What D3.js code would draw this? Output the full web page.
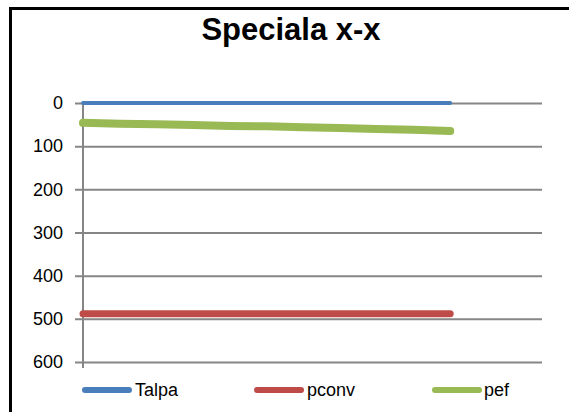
<!DOCTYPE html>
<html>
<head>
<meta charset="utf-8">
<script src="https://cdn.jsdelivr.net/npm/d3@7"></script>
<style>
  html, body { margin: 0; background: #fff; overflow: hidden; }
  svg { display: block; }
  text { font-family: "Liberation Sans", Arial, sans-serif; fill: #000; }
</style>
</head>
<body>
<script>
var width = 569,
    height = 412;

// series values (depth in the y direction, downward)
var seriesNames = ["Talpa", "pconv", "pef"];
var talpa = [0, 0, 0, 0, 0, 0, 0, 0, 0, 0, 0];
var pconv = [488, 488, 488, 488, 488, 488, 488, 488, 488, 488, 488];
var pef   = [46, 48, 49, 51, 53, 54, 56, 58, 60, 62, 65];
var yTicks = [0, 100, 200, 300, 400, 500, 600];

var colors = ["#4a7ebb", "#be4b48", "#98b954"];
var widths = [4, 7, 8];

var svg = d3.select("body").append("svg")
    .attr("width", width)
    .attr("height", height);

// chart frame: only the top and left edges are inside the picture
svg.append("path")
    .attr("d", "M10.5," + height + "V8.5H" + width)
    .attr("fill", "none")
    .attr("stroke", "#000")
    .attr("stroke-width", 3);

svg.append("text")
    .attr("x", 291).attr("y", 40)
    .attr("text-anchor", "middle")
    .style("font-size", "31px")
    .style("font-weight", "bold")
    .text("Speciala x-x");

var plot = {left: 83, right: 542, top: 103, bottom: 362};

var x = d3.scaleLinear()
    .domain([0, 12.5])
    .range([plot.left, plot.right]);

var y = d3.scaleLinear()
    .domain([0, 600])
    .range([plot.top, plot.bottom]);

// gridlines + y labels via axis
var yAxis = svg.append("g")
    .attr("transform", "translate(" + plot.left + ",0)")
    .call(d3.axisLeft(y)
      .tickValues(yTicks)
      .tickSize(-(plot.right - plot.left))
      .tickPadding(20)
      .tickFormat(d3.format("d")));
yAxis.select(".domain").remove();
yAxis.selectAll(".tick line")
    .attr("x1", -8)
    .attr("stroke", "#868686")
    .attr("stroke-width", 2);
yAxis.selectAll(".tick text")
    .style("font-size", "18px")
    .attr("font-family", null);

// vertical axis line with the little tick below
svg.append("line")
    .attr("x1", plot.left).attr("x2", plot.left)
    .attr("y1", plot.top).attr("y2", plot.bottom + 6)
    .attr("stroke", "#868686")
    .attr("stroke-width", 2);

var series = [talpa, pconv, pef];

var line = d3.line()
    .x(function(d, i) { return x(i); })
    .y(function(d) { return y(d); });

svg.selectAll(".series")
    .data(series)
  .enter().append("path")
    .attr("class", "series")
    .attr("d", line)
    .attr("fill", "none")
    .attr("stroke", function(d, i) { return colors[i]; })
    .attr("stroke-width", function(d, i) { return widths[i]; })
    .attr("stroke-linecap", "round")
    .attr("stroke-linejoin", "round");

// legend
var legendX = [82, 254, 432];
var legend = svg.selectAll(".legend")
    .data(seriesNames)
  .enter().append("g")
    .attr("class", "legend")
    .attr("transform", function(d, i) { return "translate(" + legendX[i] + ",390)"; });

legend.append("line")
    .attr("x1", 3).attr("x2", 47)
    .attr("stroke", function(d, i) { return colors[i]; })
    .attr("stroke-width", 6)
    .attr("stroke-linecap", "round");

legend.append("text")
    .attr("x", function(d, i) { return i == 2 ? 52 : 53; })
    .attr("dy", "0.35em")
    .style("font-size", "18px")
    .text(function(d) { return d; });
</script>
</body>
</html>
